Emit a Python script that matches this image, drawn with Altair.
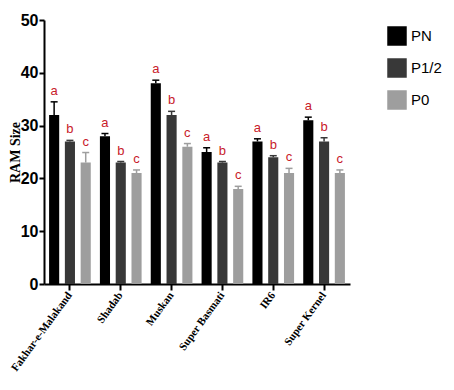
import altair as alt
import pandas as pd

cultivars = ["Fakhar-e-Malakand", "Shadab", "Muskan", "Super Basmati", "IR6", "Super Kernel"]
groups = ["PN", "P1/2", "P0"]
pn = [32, 28, 38, 25, 27, 31]
p12 = [27, 23, 32, 23, 24, 27]
p0 = [23, 21, 26, 18, 21, 21]
pn_err = [2.5, 0.5, 0.6, 0.8, 0.5, 0.6]
p12_err = [0.2, 0.2, 0.7, 0.2, 0.3, 0.7]
p0_err = [1.9, 0.6, 0.6, 0.5, 0.9, 0.6]
letters = ["a", "b", "c"]
colors = ["#000000", "#383838", "#9e9e9e"]

rows = []
for g, vals, errs, let in zip(groups, [pn, p12, p0], [pn_err, p12_err, p0_err], letters):
    for c, v, e in zip(cultivars, vals, errs):
        rows.append({"cultivar": c, "group": g, "value": v, "top": v + e, "letter": let})
df = pd.DataFrame(rows)

x_axis = alt.Axis(labelAngle=306, labelAlign="right", labelBaseline="middle",
                  labelFont="Liberation Serif", labelFontWeight="bold", labelFontSize=11,
                  labelColor="#000", labelPadding=3,
                  domainColor="#000", domainWidth=2, tickColor="#000", tickWidth=2,
                  tickSize=6, labelOverlap=False, labelLimit=0)
x = alt.X("cultivar:N", sort=cultivars, title=None,
          scale=alt.Scale(paddingInner=0.18, paddingOuter=0.1), axis=x_axis)
x_noaxis = alt.X("cultivar:N", sort=cultivars, title=None,
                 scale=alt.Scale(paddingInner=0.18, paddingOuter=0.1))
xo = alt.XOffset("group:N", sort=groups, scale=alt.Scale(paddingInner=0.36))
col_scale = alt.Scale(domain=groups, range=colors)
col = alt.Color("group:N", sort=groups, scale=col_scale,
                legend=alt.Legend(title=None, orient="none", legendX=343, legendY=6,
                                  symbolType="square", symbolSize=380, symbolStrokeWidth=0,
                                  symbolOpacity=1,
                                  labelFont="Liberation Sans", labelFontSize=15, labelColor="#000",
                                  labelOffset=4, rowPadding=12))
col_nolegend = alt.Color("group:N", sort=groups, scale=col_scale, legend=None)

base = alt.Chart(df)

bars = base.mark_bar(opacity=1).encode(
    x=x, xOffset=xo,
    y=alt.Y("value:Q", title="RAM Size",
            scale=alt.Scale(domain=[0, 50]),
            axis=alt.Axis(values=[0, 10, 20, 30, 40, 50], grid=False,
                          labelFont="Liberation Sans", labelFontWeight="bold", labelFontSize=16,
                          labelColor="#000", labelPadding=1,
                          titleFont="Liberation Serif", titleFontWeight="bold",
                          titleFontSize=14, titleColor="#000", titleX=-22,
                          domainColor="#000", domainWidth=2, tickColor="#000", tickWidth=2,
                          tickSize=5)),
    color=col,
)

rules = base.mark_rule(strokeWidth=1.5).encode(
    x=x_noaxis, xOffset=xo, y="value:Q", y2="top:Q", color=col_nolegend,
)

caps = base.mark_tick(size=7, thickness=1.5, opacity=1).encode(
    x=x_noaxis, xOffset=xo, y="top:Q", color=col_nolegend,
)

texts = base.mark_text(baseline="bottom", dy=-4, fontSize=13, font="Liberation Sans",
                       color="#c8202a").encode(
    x=x_noaxis, xOffset=xo, y="top:Q", text="letter:N",
)

chart = alt.layer(bars, rules, caps, texts).properties(
    width=306, height=264,
    padding={"left": 36, "top": 12, "right": 96, "bottom": 96},
    autosize="none",
).configure_view(stroke=None).configure_axis(grid=False)

chart.save("out.html", embed_options={"renderer": "svg", "actions": False})
